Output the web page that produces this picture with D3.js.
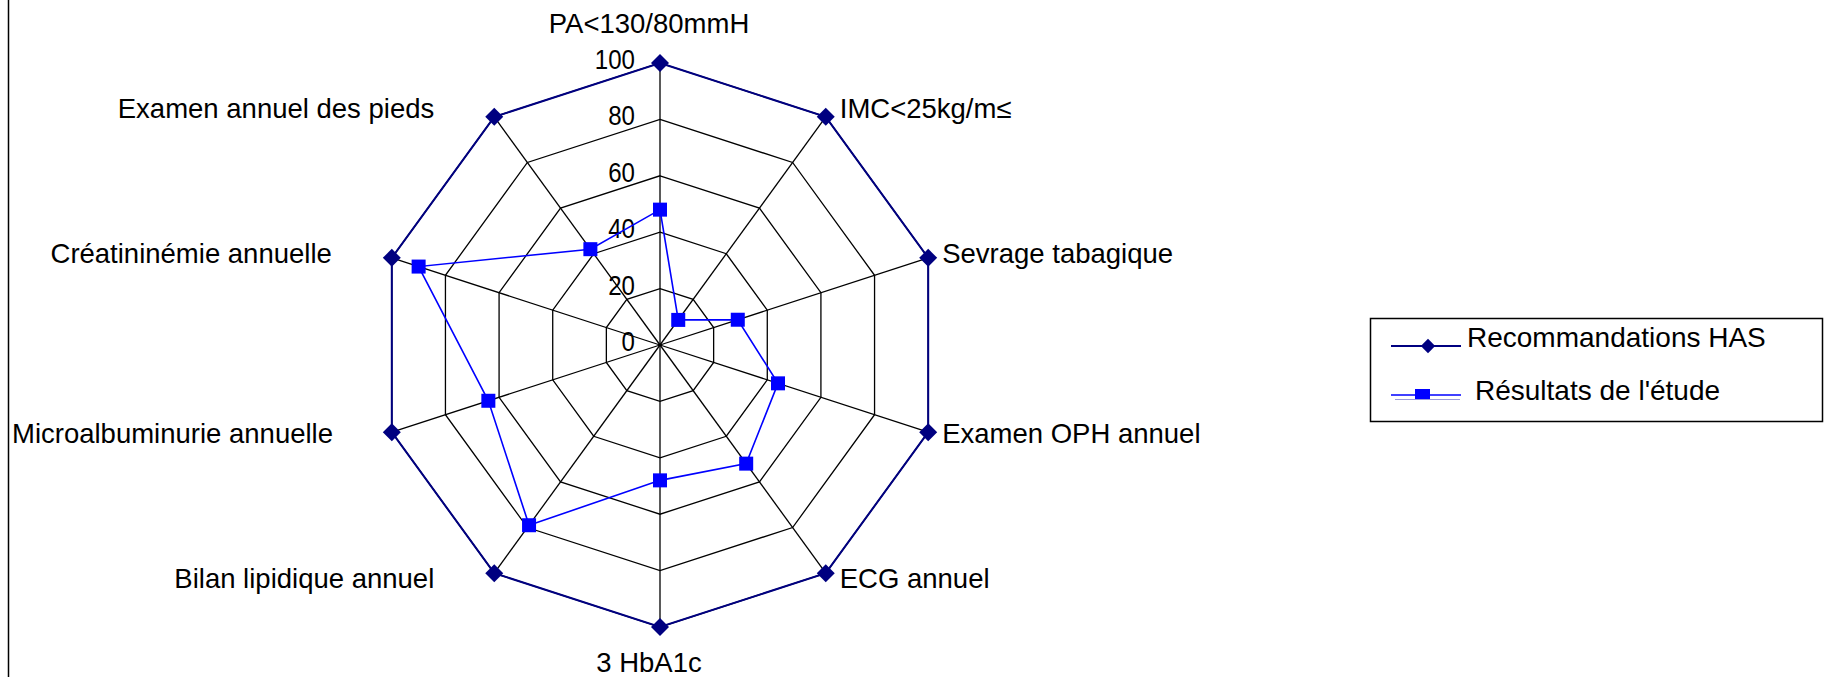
<!DOCTYPE html>
<html>
<head>
<meta charset="utf-8">
<script src="https://cdn.jsdelivr.net/npm/d3@7/dist/d3.min.js"></script>
<style>
  body { margin: 0; background: #fff; }
  svg { display: block; font-family: "Liberation Sans", Arial, sans-serif; }
</style>
</head>
<body>
<div id="chart"></div>
<script>
// axes of the radar, clockwise from the top
const categories = [
  "PA<130/80mmH",
  "IMC<25kg/m≤",
  "Sevrage tabagique",
  "Examen OPH annuel",
  "ECG annuel",
  "3 HbA1c",
  "Bilan lipidique annuel",
  "Microalbuminurie annuelle",
  "Créatininémie annuelle",
  "Examen annuel des pieds"
];
const recommandations = [100, 100, 100, 100, 100, 100, 100, 100, 100, 100];
const resultats = [48, 11, 29, 44, 52, 48, 79, 64, 90, 42];
const tickValues = [0, 20, 40, 60, 80, 100];
const seriesNames = ["Recommandations HAS", "Résultats de l'étude"];

const width = 1827, height = 677;
const cx = 660, cy = 345;

const svg = d3.select("#chart").append("svg")
    .attr("width", width)
    .attr("height", height);

const r = d3.scaleLinear().domain([0, 100]).range([0, 282]);
const angle = d3.scaleLinear().domain([0, categories.length]).range([0, 2 * Math.PI]);

const g = svg.append("g").attr("transform", "translate(" + cx + "," + cy + ")");

function px(i, v) { return r(v) * Math.sin(angle(i)); }
function py(i, v) { return -r(v) * Math.cos(angle(i)); }

// left border line
svg.append("line")
    .attr("x1", 8.5).attr("x2", 8.5)
    .attr("y1", 0).attr("y2", height)
    .attr("stroke", "#000").attr("stroke-width", 1.5);

// rings
const ring = d3.lineRadial()
    .angle((d, i) => angle(i))
    .radius(d => r(d))
    .curve(d3.curveLinearClosed);

g.selectAll(".ring")
    .data(tickValues.filter(t => t > 0))
    .enter().append("path")
    .attr("class", "ring")
    .attr("d", t => ring(categories.map(() => t)))
    .attr("fill", "none")
    .attr("stroke", "#000")
    .attr("stroke-width", 1.3);

// spokes
g.selectAll(".spoke")
    .data(categories)
    .enter().append("line")
    .attr("class", "spoke")
    .attr("x1", 0).attr("y1", 0)
    .attr("x2", (d, i) => px(i, 100))
    .attr("y2", (d, i) => py(i, 100))
    .attr("stroke", "#000")
    .attr("stroke-width", 1.3);

// tick labels (slightly condensed, like the original)
g.selectAll(".tick")
    .data(tickValues)
    .enter().append("text")
    .attr("class", "tick")
    .attr("transform", t => "translate(-25," + (-r(t) + 6) + ") scale(0.86,1)")
    .attr("text-anchor", "end")
    .style("font-size", "28px")
    .attr("fill", "#000")
    .text(t => t);

// series HAS
g.append("path")
    .attr("d", ring(recommandations))
    .attr("fill", "none")
    .attr("stroke", "#000080")
    .attr("stroke-width", 2);

const diamond = "M0,-9L9,0L0,9L-9,0Z";

g.selectAll(".has")
    .data(recommandations)
    .enter().append("path")
    .attr("class", "has")
    .attr("d", diamond)
    .attr("transform", (d, i) => "translate(" + px(i, d) + "," + py(i, d) + ")")
    .attr("fill", "#000080");

// series study
g.append("path")
    .attr("d", ring(resultats))
    .attr("fill", "none")
    .attr("stroke", "#0000ff")
    .attr("stroke-width", 1.6);

g.selectAll(".res")
    .data(resultats)
    .enter().append("rect")
    .attr("class", "res")
    .attr("x", (d, i) => px(i, d) - 7)
    .attr("y", (d, i) => py(i, d) - 7)
    .attr("width", 14)
    .attr("height", 14)
    .attr("fill", "#0000ff");

// category labels
let catLabels = g.selectAll(".cat")
    .data(categories)
    .enter().append("text")
    .attr("class", "cat")
    .attr("x", (d, i) => {
        let s = Math.sin(angle(i));
        if (s > 0.1) return px(i, 100) + 14;
        if (s < -0.1) return px(i, 100) - 60;
        return -11;
    })
    .attr("y", (d, i) => {
        let c = Math.cos(angle(i));
        if (c > 0.99) return py(i, 100) - 30;
        if (c < -0.99) return py(i, 100) + 45;
        return py(i, 100) + 8 - 8 * c;
    })
    .attr("text-anchor", (d, i) => {
        let s = Math.sin(angle(i));
        return s > 0.1 ? "start" : (s < -0.1 ? "end" : "middle");
    })
    .style("font-size", "27.5px")
    .attr("fill", "#000")
    .text(d => d);

// keep left labels inside the border line
catLabels.each(function() {
    let t = d3.select(this);
    if (t.attr("text-anchor") !== "end") return;
    let w = this.getComputedTextLength();
    let minX = 12 - cx + w;
    if (+t.attr("x") < minX) t.attr("x", minX);
});

// legend
let legend = svg.append("g");

legend.append("rect")
    .attr("x", 1370.5).attr("y", 318.5)
    .attr("width", 452).attr("height", 103)
    .attr("fill", "#fff")
    .attr("stroke", "#000")
    .attr("stroke-width", 1.5);

legend.append("line")
    .attr("x1", 1391).attr("x2", 1461)
    .attr("y1", 346).attr("y2", 346)
    .attr("stroke", "#000080").attr("stroke-width", 2);

legend.append("path")
    .attr("d", diamond)
    .attr("transform", "translate(1428,346) scale(0.8)")
    .attr("fill", "#000080");

legend.append("text")
    .attr("x", 1467).attr("y", 347)
    .style("font-size", "28px")
    .text(seriesNames[0]);

legend.append("line")
    .attr("x1", 1391).attr("x2", 1461)
    .attr("y1", 395).attr("y2", 395)
    .attr("stroke", "#0000ff").attr("stroke-width", 1.6);

legend.append("line")
    .attr("x1", 1395).attr("x2", 1460)
    .attr("y1", 399.5).attr("y2", 399.5)
    .attr("stroke", "#9999dd").attr("stroke-width", 1);

legend.append("rect")
    .attr("x", 1415).attr("y", 389)
    .attr("width", 15).attr("height", 10)
    .attr("fill", "#0000ff");

legend.append("text")
    .attr("x", 1475).attr("y", 400)
    .style("font-size", "28px")
    .text(seriesNames[1]);
</script>
</body>
</html>
